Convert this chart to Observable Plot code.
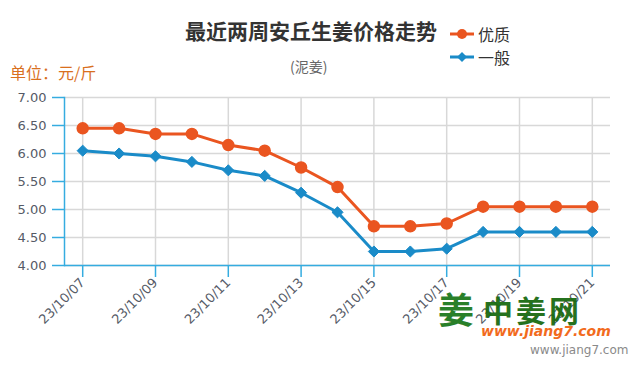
<!DOCTYPE html>
<html><head><meta charset="utf-8">
<script src="https://cdn.jsdelivr.net/npm/d3@7"></script>
<script src="https://cdn.jsdelivr.net/npm/@observablehq/plot@0.6"></script>
<style>
body{margin:0;background:#fff;}
#wrap{position:relative;width:635px;height:375px;overflow:hidden;font-family:"Noto Sans CJK SC","DejaVu Sans",sans-serif;}
.abs{position:absolute;white-space:nowrap;line-height:1;}
#chart svg{display:block;}
</style></head><body>
<div id="wrap">
  <div id="chart"></div>
  <div class="abs" id="title" style="left:185px;top:20px;font-size:21px;font-weight:bold;color:#333;">最近两周安丘生姜价格走势</div>
  <div class="abs" id="subtitle" style="left:290px;top:59px;font-size:14px;color:#666;">(泥姜)</div>
  <div class="abs" id="unit" style="left:10px;top:64px;font-size:16px;color:#d9701e;">单位：元/斤</div>
  <div class="abs" id="legend" style="left:450px;top:22px;font-size:16px;color:#333;"></div>
  <div class="abs" style="left:438px;top:292px;font-size:36px;line-height:0.9;font-weight:bold;color:#1e7a1e;opacity:0.95;">姜</div>
  <div class="abs" style="left:483px;top:297px;font-size:30px;line-height:0.8;font-weight:bold;color:#1b6b12;letter-spacing:3px;opacity:0.95;">中姜网</div>
  <div class="abs" style="left:481px;top:324px;font-size:14px;font-weight:bold;font-style:italic;color:#f26b1d;font-family:'DejaVu Sans',sans-serif;">www.jiang7.com</div>
  <div class="abs" style="left:530px;top:344px;font-size:12px;color:#8a8a8a;font-family:'DejaVu Sans',sans-serif;">www.jiang7.com</div>
</div>
<script>
const dates = ["23/10/07","23/10/08","23/10/09","23/10/10","23/10/11","23/10/12","23/10/13","23/10/14","23/10/15","23/10/16","23/10/17","23/10/18","23/10/19","23/10/20","23/10/21"];
const premium = [6.45,6.45,6.35,6.35,6.15,6.05,5.75,5.40,4.70,4.70,4.75,5.05,5.05,5.05,5.05];
const ordinary = [6.05,6.00,5.95,5.85,5.70,5.60,5.30,4.95,4.25,4.25,4.30,4.60,4.60,4.60,4.60];
const seriesNames = ["优质","一般"];
const seriesColors = ["#ea5520","#1a8bc8"];
const yTicks = [4.0,4.5,5.0,5.5,6.0,6.5,7.0];
const xTickLabels = ["23/10/07","23/10/09","23/10/11","23/10/13","23/10/15","23/10/17","23/10/19","23/10/21"];

const axisBlue = "#35ace0";
const gridGray = "#d8d8d8";
const premRows = dates.map((d,i)=>({date:d, value:premium[i]}));
const ordRows = dates.map((d,i)=>({date:d, value:ordinary[i]}));

const chart = Plot.plot({
  width: 635, height: 375,
  marginLeft: 64, marginRight: 25, marginTop: 97, marginBottom: 110,
  style: {fontFamily: "'DejaVu Sans', sans-serif", fontSize: "13px", background: "transparent"},
  x: {type: "point", domain: dates, padding: 0.5, round: false, axis: null},
  y: {domain: [4, 7], axis: null},
  marks: [
    Plot.gridY(yTicks, {stroke: gridGray, strokeOpacity: 1, strokeWidth: 1.5}),
    Plot.gridX(xTickLabels, {stroke: gridGray, strokeOpacity: 1, strokeWidth: 1.5}),
    Plot.frame({anchor: "left", stroke: axisBlue, strokeWidth: 1.5}),
    Plot.ruleY([4], {stroke: axisBlue, strokeWidth: 1.5}),
    Plot.axisY(yTicks, {label: null, tickSize: 12, tickPadding: 6, stroke: axisBlue, strokeWidth: 1.5, fill: "#555a66", fontSize: 13, tickFormat: d => d.toFixed(2)}),
    Plot.axisX(xTickLabels, {label: null, tickSize: 12, tickPadding: 3, tickRotate: -45, stroke: axisBlue, strokeWidth: 1.5, fill: "#555a66", fontSize: 13}),
    Plot.line(premRows, {x: "date", y: "value", stroke: seriesColors[0], strokeWidth: 3}),
    Plot.line(ordRows, {x: "date", y: "value", stroke: seriesColors[1], strokeWidth: 3}),
    Plot.dot(premRows, {x: "date", y: "value", r: 5.5, fill: seriesColors[0], stroke: seriesColors[0]}),
    Plot.dot(ordRows, {x: "date", y: "value", symbol: "diamond2", r: 5, fill: seriesColors[1], stroke: seriesColors[1], strokeWidth: 1})
  ]
});
document.getElementById("chart").appendChild(chart);

// legend
const legend = document.getElementById("legend");
seriesNames.forEach((name, i) => {
  const row = document.createElement("div");
  row.style.cssText = "display:flex;align-items:center;height:23px;";
  const marker = i === 0
    ? `<circle cx="12" cy="7" r="5" fill="${seriesColors[i]}"/>`
    : `<path d="M12 2 L17 7 L12 12 L7 7 Z" fill="${seriesColors[i]}"/>`;
  row.innerHTML = `<svg width="24" height="14" style="margin-right:4px"><line x1="0" x2="24" y1="7" y2="7" stroke="${seriesColors[i]}" stroke-width="3"/>${marker}</svg><span>${name}</span>`;
  legend.appendChild(row);
});
</script>
</body></html>
